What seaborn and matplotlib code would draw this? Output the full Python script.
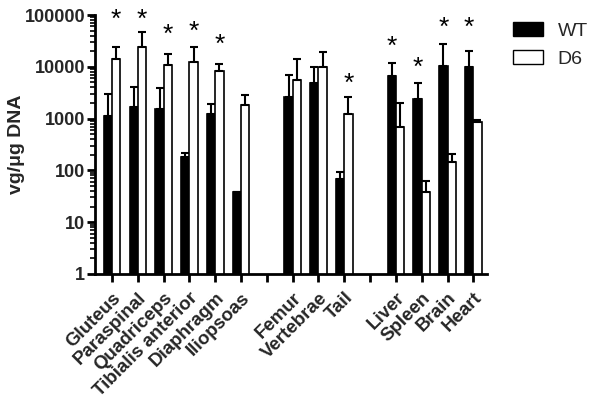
import matplotlib
matplotlib.use("Agg")
import matplotlib.pyplot as plt
import matplotlib.transforms as mtransforms
import seaborn as sns
import pandas as pd
from matplotlib.patches import Patch
from matplotlib.ticker import LogLocator, FixedLocator, FixedFormatter, NullFormatter

# ========== Data ==========
tissues = ["Gluteus", "Paraspinal", "Quadriceps", "Tibialis anterior", "Diaphragm", "Iliopsoas",
           "Femur", "Vertebrae", "Tail",
           "Liver", "Spleen", "Brain", "Heart"]
order = tissues[:6] + [" "] + tissues[6:9] + ["  "] + tissues[9:]

wt_mean = [1120, 1700, 1530, 178, 1210, 38, 2650, 4800, 67, 6550, 2400, 10350, 9950]
wt_err_top = [2950, 4000, 3850, 218, 1950, 39, 6900, 10000, 94, 12000, 4920, 28000, 20000]
d6_mean = [13900, 24500, 10700, 12300, 8150, 1870, 5600, 9950, 1210, 700, 39, 148, 860]
d6_err_top = [24000, 47000, 17400, 23600, 11500, 2830, 14100, 19000, 2650, 1970, 63, 207, 940]

significant = [True, True, True, True, True, False, False, False, True, True, True, True, True]
star_y = [100000, 100000, 51000, 59000, 33000, None, None, None, 5800, 30000, 11800, 70000, 70000]

y_ticks = [1, 10, 100, 1000, 10000, 100000]
y_tick_labels = ["1", "10", "100", "1000", "10000", "100000"]

df = pd.DataFrame({
    "tissue": tissues * 2,
    "group": ["WT"] * len(tissues) + ["D6"] * len(tissues),
    "value": wt_mean + d6_mean,
})
err_top = {("WT", t): e for t, e in zip(tissues, wt_err_top)}
err_top.update({("D6", t): e for t, e in zip(tissues, d6_err_top)})

# ========== Plot ==========
sns.set_style("ticks")
plt.rcParams["font.family"] = ["Liberation Sans", "DejaVu Sans"]

fig = plt.figure(figsize=(6, 4.09), dpi=100)
ax = fig.add_axes([95 / 600, 1 - 274 / 409, (487 - 95) / 600, (274 - 15) / 409])

sns.barplot(data=df, x="tissue", y="value", hue="group", order=order,
            hue_order=["WT", "D6"], palette={"WT": "black", "D6": "white"},
            edgecolor="black", linewidth=1.2, width=0.64, errorbar=None,
            legend=False, ax=ax)
ax.set_yscale("log")

# one-sided error bars on top of each bar
for p in list(ax.patches):
    xc = p.get_x() + p.get_width() / 2
    h = p.get_height()
    i = int(round(xc))
    grp = "WT" if xc < i else "D6"
    top = err_top[(grp, order[i])]
    ax.errorbar(xc, h, yerr=[[0], [top - h]], fmt="none", ecolor="black",
                elinewidth=1.5, capsize=2.6, capthick=1.5, zorder=3)

# significance asterisks over the taller bar
star_tr = mtransforms.offset_copy(ax.transData, fig=fig, x=0, y=-5, units="dots")
for t, sig, sy, w, d in zip(tissues, significant, star_y, wt_mean, d6_mean):
    if not sig:
        continue
    i = order.index(t)
    xs = i + 0.16 if d > w else i - 0.16
    ax.text(xs, sy, "*", ha="center", va="center", fontsize=19, color="black",
            transform=star_tr, clip_on=False)

ax.set_ylim(1, 100000)
ax.set_xlim(-0.66, 14.53)
ax.yaxis.set_major_locator(FixedLocator(y_ticks))
ax.yaxis.set_major_formatter(FixedFormatter(y_tick_labels))
ax.yaxis.set_minor_locator(LogLocator(base=10, subs=range(2, 10)))
ax.yaxis.set_minor_formatter(NullFormatter())

ax.set_xticks(range(len(order)))
ax.set_xticklabels(order, rotation=45, ha="right", rotation_mode="anchor",
                   fontsize=13.5, fontweight="bold")
for lbl in ax.get_yticklabels():
    lbl.set_fontsize(13)
    lbl.set_fontweight("bold")

ax.tick_params(axis="both", which="major", length=6, width=2, color="black")
ax.tick_params(axis="x", which="major", pad=5)
ax.tick_params(axis="y", which="major", pad=1)
ax.tick_params(axis="y", which="minor", length=3.5, width=1.2, color="black")
ax.set_xlabel("")
ax.set_ylabel("vg/\u03bcg DNA", fontsize=14, fontweight="bold")
ax.yaxis.set_label_coords((25 - 95) / 392, 0.5)

sns.despine(ax=ax)
for s in ["left", "bottom"]:
    ax.spines[s].set_linewidth(2)
    ax.spines[s].set_color("black")

handles = [Patch(facecolor="black", edgecolor="black", label="WT"),
           Patch(facecolor="white", edgecolor="black", label="D6")]
fig.legend(handles=handles, loc="upper left", bbox_to_anchor=(513 / 600, 1 - 22 / 409),
           frameon=False, fontsize=14, handlelength=1.55, handleheight=0.75,
           handletextpad=0.75, labelspacing=0.5, borderpad=0, borderaxespad=0)

fig.savefig("out.png", dpi=100)
